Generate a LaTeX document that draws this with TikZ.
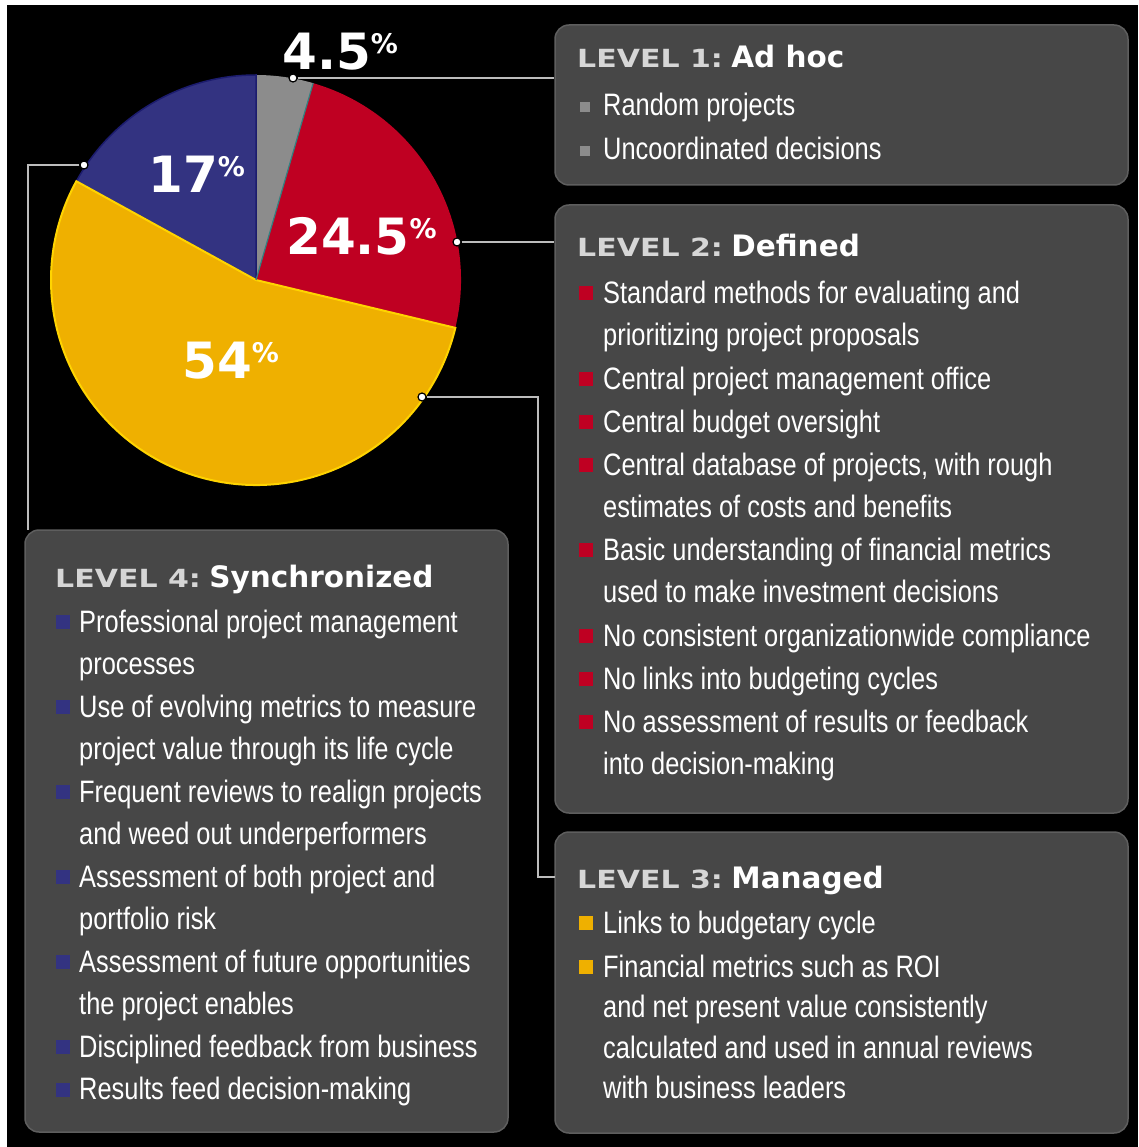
\documentclass[tikz,border=0pt]{standalone}
\usepackage{fontspec}
\usepackage{xcolor}
\usepackage{tikz}
\usetikzlibrary{calc}

\newfontfamily\bodyfont{Liberation Sans}[FakeStretch=0.82]
\newfontfamily\levelfont{DejaVu Sans}[FakeStretch=1.2]
\newfontfamily\numfont{DejaVu Sans}

\definecolor{slicegray}{HTML}{8C8C8C}
\definecolor{slicered}{HTML}{BF0022}
\definecolor{sliceyellow}{HTML}{EFB000}
\definecolor{edgeyellow}{HTML}{FFD400}
\definecolor{sliceblue}{HTML}{333381}
\definecolor{edgeblue}{HTML}{1C1C6E}
\definecolor{boxfill}{HTML}{474747}
\definecolor{boxedge}{HTML}{5E5E5E}
\definecolor{linkgray}{HTML}{BCBCBC}
\definecolor{headgray}{HTML}{D6D6D6}

\newcommand{\pctsign}{\raisebox{16pt}{\fontsize{27}{27}\selectfont\%}}

\begin{document}
\begin{tikzpicture}[x=1pt, y=-1pt,
    levelbox/.style={draw=boxedge, fill=boxfill, line width=1.5, rounded corners=14, inner sep=0},
    link/.style={draw=linkgray, line width=2.8},
    dotmark/.style={circle, fill=white, draw=black, line width=1.2, minimum size=8, inner sep=0},
    pielabel/.style={anchor=base west, inner sep=0, text=white, font=\numfont\bfseries\fontsize{50}{50}\selectfont},
    levelhead/.style={anchor=base west, inner sep=0, text=white},
    itemtext/.style={anchor=base west, inner sep=0, align=left, text=white, font=\bodyfont\fontsize{31}{42.6}\selectfont},
    bulletsq/.style={rectangle, inner sep=0, minimum size=14}]
    \useasboundingbox (0,0) rectangle (1138,1147);
    {
    % Paper and black ground
    \fill[white] (0,0) rectangle (1138,1147);%
    \fill[black] (7,5) rectangle (1138,1147);%

    % Pie: slices clockwise from the top
    \begin{scope}[shift={(256,280)}, y=1pt]
        \fill[slicered] (0,0) -- (73.8:205) arc (73.8:-13.5:205) -- cycle;%
        \fill[slicegray] (0,0) -- (90:205) arc (90:73.8:205) -- cycle;%
        \filldraw[fill=sliceblue, draw=edgeblue, line width=1.5] (0,0) -- (151.2:205) arc (151.2:90:205) -- cycle;%
        \filldraw[fill=sliceyellow, draw=edgeyellow, line width=2] (0,0) -- (-13.5:205) arc (-13.5:-208.8:205) -- cycle;%
        \draw[color=teal!60!gray, line width=1.2] (0,0) -- (73.8:205);%
    \end{scope}

    % Percent labels
    \node[pielabel] (lab45) at (282,70) {4.5\pctsign};%
    \node[pielabel] (lab17) at (148,193) {17\pctsign};%
    \node[pielabel] (lab245) at (286,255) {24.5\pctsign};%
    \node[pielabel] (lab54) at (182,378) {54\pctsign};%

    % Level boxes
    \node[levelbox, minimum width=573, minimum height=160] (lvl1) at (841.5,105) {};%
    \node[levelbox, minimum width=573, minimum height=608] (lvl2) at (841.5,509) {};%
    \node[levelbox, minimum width=573, minimum height=301] (lvl3) at (841.5,982.5) {};%
    \node[levelbox, minimum width=483, minimum height=602] (lvl4) at (266.5,831) {};%

    % Points on the pie rim
    \node[dotmark] (p45) at (293,78) {};%
    \node[dotmark] (p245) at (457,242) {};%
    \node[dotmark] (p54) at (422,397) {};%
    \node[dotmark] (p17) at (84,165) {};%
    \coordinate (k54) at (538,397);%
    \coordinate (in3) at (555,877);%
    \coordinate (in4) at (28,530);%

    % Connectors from the pie to the boxes
    \draw[link] (p45) -- (p45 -| lvl1.west);%
    \draw[link] (p245) -- (p245 -| lvl2.west);%
    \draw[link] (p54) -- (k54) |- (in3);%
    \draw[link] (p17) -| (in4);%

    % Level 1 (multi-line texts sit on the baseline of their last line)
    \node[levelhead] (h1) at (577,68) {{\levelfont\bfseries\fontsize{25}{25}\selectfont\color{headgray}LEVEL 1:}\hspace{4pt} {\numfont\bfseries\fontsize{29.5}{30}\selectfont Ad hoc}};%
    \node[bulletsq, fill=slicegray, minimum size=10] (b1a) at (585,107) {};%
    \node[itemtext] (t1a) at (603,116) {Random projects};%
    \node[bulletsq, fill=slicegray, minimum size=10] (b1b) at (585,151) {};%
    \node[itemtext] (t1b) at (603,160) {Uncoordinated decisions};%

    % Level 2
    \node[levelhead] (h2) at (577,257) {{\levelfont\bfseries\fontsize{25}{25}\selectfont\color{headgray}LEVEL 2:}\hspace{4pt} {\numfont\bfseries\fontsize{29.5}{30}\selectfont Defined}};%
    \node[bulletsq, fill=slicered] (b2a) at (586,293) {};%
    \node[itemtext] (t2a) at (603,345.6) {Standard methods for evaluating and\\prioritizing project proposals};%
    \node[bulletsq, fill=slicered] (b2b) at (586,379) {};%
    \node[itemtext] (t2b) at (603,389) {Central project management office};%
    \node[bulletsq, fill=slicered] (b2c) at (586,422) {};%
    \node[itemtext] (t2c) at (603,432) {Central budget oversight};%
    \node[bulletsq, fill=slicered] (b2d) at (586,465) {};%
    \node[itemtext] (t2d) at (603,517.6) {Central database of projects, with rough\\estimates of costs and benefits};%
    \node[bulletsq, fill=slicered] (b2e) at (586,550) {};%
    \node[itemtext] (t2e) at (603,602.6) {Basic understanding of financial metrics\\used to make investment decisions};%
    \node[bulletsq, fill=slicered] (b2f) at (586,636) {};%
    \node[itemtext] (t2f) at (603,646) {No consistent organizationwide compliance};%
    \node[bulletsq, fill=slicered] (b2g) at (586,679) {};%
    \node[itemtext] (t2g) at (603,689) {No links into budgeting cycles};%
    \node[bulletsq, fill=slicered] (b2h) at (586,722) {};%
    \node[itemtext] (t2h) at (603,774.6) {No assessment of results or feedback\\into decision-making};%

    % Level 3
    \node[levelhead] (h3) at (577,888) {{\levelfont\bfseries\fontsize{25}{25}\selectfont\color{headgray}LEVEL 3:}\hspace{4pt} {\numfont\bfseries\fontsize{29.5}{30}\selectfont Managed}};%
    \node[bulletsq, fill=sliceyellow] (b3a) at (586,923) {};%
    \node[itemtext] (t3a) at (603,933) {Links to budgetary cycle};%
    \node[bulletsq, fill=sliceyellow] (b3b) at (586,967) {};%
    \node[itemtext, font=\bodyfont\fontsize{31}{40.5}\selectfont] (t3b) at (603,1098.5) {Financial metrics such as ROI\\and net present value consistently\\calculated and used in annual reviews\\with business leaders};%

    % Level 4
    \node[levelhead] (h4) at (55,587) {{\levelfont\bfseries\fontsize{25}{25}\selectfont\color{headgray}LEVEL 4:}\hspace{4pt} {\numfont\bfseries\fontsize{29.5}{30}\selectfont Synchronized}};%
    \node[bulletsq, fill=sliceblue] (b4a) at (63,622) {};%
    \node[itemtext] (t4a) at (79,674.6) {Professional project management\\processes};%
    \node[bulletsq, fill=sliceblue] (b4b) at (63,707) {};%
    \node[itemtext] (t4b) at (79,759.6) {Use of evolving metrics to measure\\project value through its life cycle};%
    \node[bulletsq, fill=sliceblue] (b4c) at (63,792) {};%
    \node[itemtext] (t4c) at (79,844.6) {Frequent reviews to realign projects\\and weed out underperformers};%
    \node[bulletsq, fill=sliceblue] (b4d) at (63,877) {};%
    \node[itemtext] (t4d) at (79,929.6) {Assessment of both project and\\portfolio risk};%
    \node[bulletsq, fill=sliceblue] (b4e) at (63,962) {};%
    \node[itemtext] (t4e) at (79,1014.6) {Assessment of future opportunities\\the project enables};%
    \node[bulletsq, fill=sliceblue] (b4f) at (63,1047) {};%
    \node[itemtext] (t4f) at (79,1057) {Disciplined feedback from business};%
    \node[bulletsq, fill=sliceblue] (b4g) at (63,1089.5) {};%
    \node[itemtext] (t4g) at (79,1099.5) {Results feed decision-making};%
    }
\end{tikzpicture}
\end{document}
